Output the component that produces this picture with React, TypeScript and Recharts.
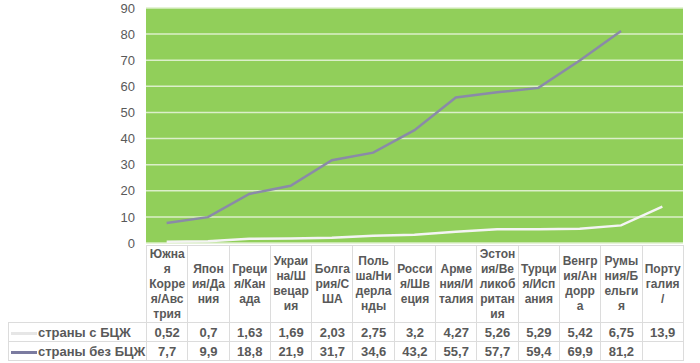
import { LineChart, Line, XAxis, YAxis, CartesianGrid } from 'recharts';

// category labels, wrapped the way the source table wraps them
const categoryLines: string[][] = [
  ['Южна', 'я', 'Корре', 'я/Авс', 'трия'],
  ['Япон', 'ия/Да', 'ния'],
  ['Греци', 'я/Кан', 'ада'],
  ['Украи', 'на/Ш', 'вецар', 'ия'],
  ['Болга', 'рия/С', 'ША'],
  ['Поль', 'ша/Ни', 'дерла', 'нды'],
  ['Росси', 'я/Шв', 'еция'],
  ['Арме', 'ния/И', 'талия'],
  ['Эстон', 'ия/Ве', 'ликоб', 'ритан', 'ия'],
  ['Турци', 'я/Исп', 'ания'],
  ['Венгр', 'ия/Ан', 'дорр', 'а'],
  ['Румы', 'ния/Б', 'ельги', 'я'],
  ['Порту', 'галия', '/'],
];
const categories = categoryLines.map((l) => l.join(''));

const withBcg = [0.52, 0.7, 1.63, 1.69, 2.03, 2.75, 3.2, 4.27, 5.26, 5.29, 5.42, 6.75, 13.9];
const withoutBcg: (number | null)[] = [7.7, 9.9, 18.8, 21.9, 31.7, 34.6, 43.2, 55.7, 57.7, 59.4, 69.9, 81.2, null];

const yTicks = [0, 10, 20, 30, 40, 50, 60, 70, 80, 90];

const SERIES = [
  { key: 'withBcg', name: 'страны с БЦЖ', color: '#f4f4f4', sample: '#e6e6e6', values: withBcg },
  { key: 'withoutBcg', name: 'страны без БЦЖ', color: '#8a8aa8', sample: '#7b7ba0', values: withoutBcg },
];

const data = categories.map((name, i) => ({
  name,
  withBcg: withBcg[i],
  withoutBcg: withoutBcg[i],
}));

const FONT = '"Liberation Sans", Arial, sans-serif';
const TEXT = '#595959';
const BORDER = '#dcdcdc';
const PLOT_LEFT = 146;
const PLOT_RIGHT = 683;
const PLOT_BOTTOM = 243;
const COL_W = (PLOT_RIGHT - PLOT_LEFT) / categories.length;

const fmt = (v: number | null) => (v == null ? '' : String(v).replace('.', ','));

export default function App() {
  const cell: React.CSSProperties = {
    border: `1px solid ${BORDER}`,
    padding: 0,
    textAlign: 'center',
    color: TEXT,
    fontWeight: 700,
    fontSize: 12,
  };

  return (
    <div
      style={{
        position: 'absolute',
        left: 0,
        top: 0,
        width: 700,
        height: 363,
        background: '#fff',
        fontFamily: FONT,
        overflow: 'hidden',
      }}
    >
      <LineChart
        width={700}
        height={PLOT_BOTTOM + 20}
        data={data}
        margin={{ top: 8, right: 700 - PLOT_RIGHT, bottom: 20, left: PLOT_LEFT - 40 }}
      >
        <CartesianGrid vertical={false} stroke="#dcefca" strokeWidth={1.5} fill="#91cf5a" />
        <XAxis dataKey="name" hide padding={{ left: COL_W / 2, right: COL_W / 2 }} />
        <YAxis
          width={40}
          domain={[0, 90]}
          ticks={yTicks}
          interval={0}
          axisLine={false}
          tickLine={false}
          tickMargin={5}
          tick={{ fontSize: 13, fill: TEXT, fontFamily: FONT }}
        />
        {SERIES.map((s) => (
          <Line
            key={s.key}
            type="linear"
            dataKey={s.key}
            name={s.name}
            stroke={s.color}
            strokeWidth={2.5}
            dot={false}
            isAnimationActive={false}
          />
        ))}
      </LineChart>

      {/* data table under the plot */}
      <table
        style={{
          position: 'absolute',
          left: 8,
          top: 245,
          width: PLOT_RIGHT - 8,
          borderCollapse: 'collapse',
          tableLayout: 'fixed',
          fontFamily: FONT,
        }}
      >
        <colgroup>
          <col style={{ width: PLOT_LEFT - 8 }} />
          {categories.map((c) => (
            <col key={c} style={{ width: COL_W }} />
          ))}
        </colgroup>
        <tbody>
          <tr style={{ height: 77 }}>
            <td style={{ padding: 0 }} />
            {categoryLines.map((lines, i) => (
              <td key={i} style={{ ...cell, lineHeight: '15px', verticalAlign: 'middle' }}>
                {lines.map((l, j) => (
                  <div key={j}>{l}</div>
                ))}
              </td>
            ))}
          </tr>
          {SERIES.map((s) => (
            <tr key={s.key} style={{ height: 19 }}>
              <td style={{ ...cell, textAlign: 'left', fontSize: 13, whiteSpace: 'nowrap' }}>
                <span
                  style={{
                    display: 'inline-block',
                    width: 26,
                    height: 3,
                    background: s.sample,
                    verticalAlign: 'middle',
                    marginLeft: 2,
                    marginRight: 1,
                  }}
                />
                {s.name}
              </td>
              {s.values.map((v, i) => (
                <td key={i} style={{ ...cell, fontSize: 13 }}>
                  {fmt(v)}
                </td>
              ))}
            </tr>
          ))}
        </tbody>
      </table>
    </div>
  );
}
